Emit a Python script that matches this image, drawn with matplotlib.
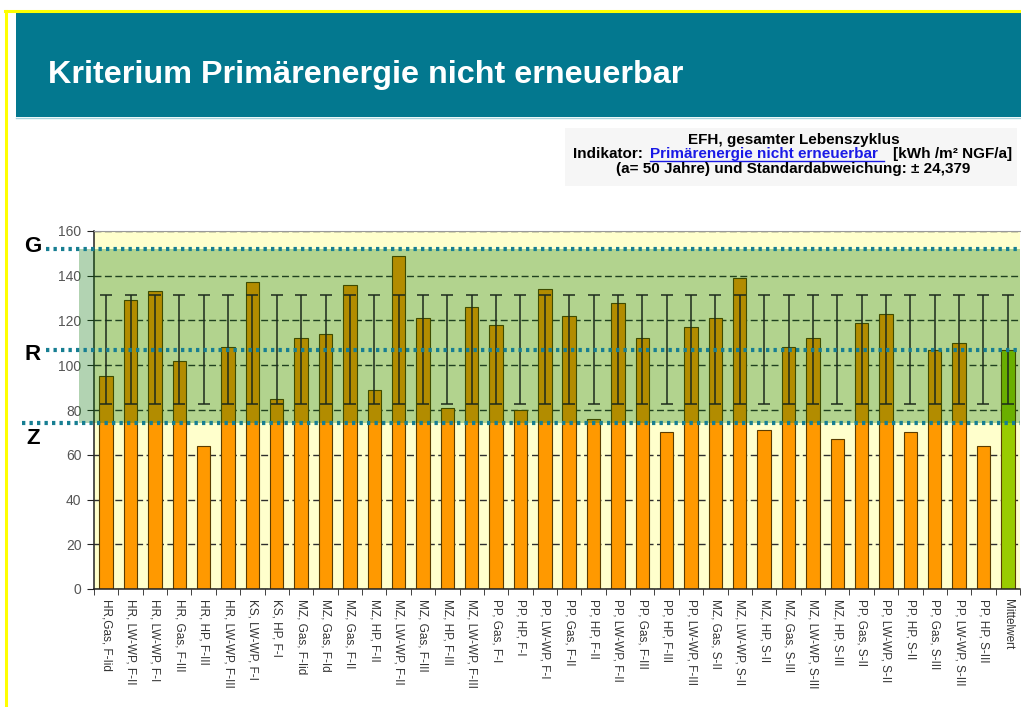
"""Kriterium Primärenergie nicht erneuerbar - EFH, gesamter Lebenszyklus."""
import matplotlib

matplotlib.use("Agg")
import matplotlib.pyplot as plt
from matplotlib.lines import Line2D
from matplotlib.patches import Rectangle
import numpy as np

plt.rcParams["font.family"] = ["Liberation Sans", "DejaVu Sans"]

W, H = 1021, 707

labels = [
    "HR,Gas, F-Iid", "HR, LW-WP, F-II", "HR, LW-WP, F-I", "HR, Gas, F-III",
    "HR, HP, F-III", "HR, LW-WP, F-III", "KS, LW-WP, F-I", "KS, HP, F-I",
    "MZ, Gas, F-Iid", "MZ, Gas, F-Id", "MZ, Gas, F-II", "MZ, HP, F-II",
    "MZ, LW-WP, F-II", "MZ, Gas, F-III", "MZ, HP, F-III", "MZ, LW-WP, F-III",
    "PP, Gas, F-I", "PP, HP, F-I", "PP, LW-WP, F-I", "PP, Gas, F-II",
    "PP, HP, F-II", "PP, LW-WP, F-II", "PP, Gas, F-III", "PP, HP, F-III",
    "PP, LW-WP, F-III", "MZ, Gas, S-II", "MZ, LW-WP, S-II", "MZ, HP, S-II",
    "MZ, Gas, S-III", "MZ, LW-WP, S-III", "MZ, HP, S-III", "PP, Gas, S-II",
    "PP, LW-WP, S-II", "PP, HP, S-II", "PP, Gas, S-III", "PP, LW-WP, S-III",
    "PP, HP, S-III", "Mittelwert",
]
values = [
    95, 129, 133, 102, 64, 108, 137, 85, 112, 114, 136, 89, 149, 121, 81, 126,
    118, 80, 134, 122, 76, 128, 112, 70, 117, 121, 139, 71, 108, 112, 67, 119,
    123, 70, 107, 110, 64, 107,
]
mean_value = 107
std_dev = 24.379
levels = {"G": 152, "R": 107, "Z": 74}

ORANGE = "#FF9900"
MEAN_GREEN = "#99CC00"
BG_YELLOW = "#FFFFCC"
TEAL = "#03788F"


def fx(x):
    return x / W


def fy(y):
    return 1 - y / H


fig = plt.figure(figsize=(W / 100, H / 100), dpi=100)
fig.patch.set_facecolor("white")

# slide decoration: yellow frame, teal header
fig.add_artist(Line2D([fx(5), fx(W)], [fy(11), fy(11)], color="#FFFF00", lw=2.2))
fig.add_artist(Line2D([fx(6), fx(6)], [fy(11), fy(H)], color="#FFFF00", lw=2.2))
fig.add_artist(Rectangle((fx(16), fy(117)), fx(W - 16), 105 / H, color=TEAL, lw=0))
fig.add_artist(Line2D([fx(16), fx(W)], [fy(117.5), fy(117.5)], color="#A8D4DD", lw=1))
fig.text(fx(48), fy(75), "Kriterium Primärenergie nicht erneuerbar", color="white",
         fontsize=23.3, fontweight="bold", va="center", ha="left")

# indicator box
fig.add_artist(Rectangle((fx(565), fy(186)), fx(452), 58 / H, color="#F6F6F6", lw=0))
fig.text(fx(794), fy(140), "EFH, gesamter Lebenszyklus", fontsize=11,
         fontweight="bold", ha="center", va="center")
fig.text(fx(573), fy(154), "Indikator:", fontsize=11, fontweight="bold",
         ha="left", va="center")
fig.text(fx(650), fy(154), "Primärenergie nicht erneuerbar", fontsize=11,
         fontweight="bold", ha="left", va="center", color="#1A1AE6")
fig.add_artist(Line2D([fx(650), fx(884)], [fy(161), fy(161)], color="#1A1AE6", lw=1))
fig.text(fx(893), fy(154), "[kWh /m² NGF/a]", fontsize=11, fontweight="bold",
         ha="left", va="center")
fig.text(fx(793), fy(169), "(a= 50 Jahre) und Standardabweichung: ± 24,379",
         fontsize=11, fontweight="bold", ha="center", va="center")

# chart
ax = fig.add_axes([fx(94), fy(589), fx(1020 - 94), (589 - 231) / H])
ax.set_facecolor(BG_YELLOW)
x = np.arange(len(values))
colors = [ORANGE] * (len(values) - 1) + [MEAN_GREEN]
ax.bar(x, values, width=0.55, color=colors, edgecolor="#5A3C00", linewidth=0.8,
       zorder=2)

# green target band, drawn over the bars
band = Rectangle((-0.016, levels["Z"]), 1.016, levels["G"] - levels["Z"],
                 transform=ax.get_yaxis_transform(), facecolor="#006E00",
                 alpha=0.3, lw=0, zorder=3, clip_on=False)
ax.add_patch(band)

ax.errorbar(x, [mean_value] * len(x), yerr=std_dev, fmt="none", ecolor="#1C2A1C",
            elinewidth=1.1, capsize=4, capthick=1.1, zorder=4)

# dotted limit lines, start just right of their letters
line_start = {"G": 46, "R": 46, "Z": 22}
letter_y = {"G": 247, "R": 354, "Z": 438}
for name, lvl in levels.items():
    x0 = (line_start[name] - 94) / (1020 - 94)
    ax.plot([x0, 1.0], [lvl, lvl], transform=ax.get_yaxis_transform(),
            color="#177E92", lw=3, linestyle=(0, (0.8, 1.0)), zorder=5,
            clip_on=False, dash_capstyle="butt")
    fig.text(fx(33), fy(letter_y[name]), name, fontsize=16, fontweight="bold",
             ha="center", va="center")

ax.set_ylim(0, 160)
ax.set_xlim(-0.45, len(values) - 0.55)
ax.set_yticks(range(0, 161, 20))
ax.yaxis.grid(True, color="#2E2E2E", lw=1, linestyle=(0, (5, 2.5)), zorder=1)
ax.set_axisbelow(True)
ax.tick_params(axis="y", labelsize=10, labelcolor="#555555", length=5,
               color="#222222", pad=4)
ax.set_xticks(x)
ax.set_xticklabels(labels, rotation=270, fontsize=8.5, color="#333333",
                   va="top", ha="center")
ax.tick_params(axis="x", which="major", length=0, pad=7)
ax.set_xticks(np.arange(len(values) + 1) - 0.5, minor=True)
ax.tick_params(axis="x", which="minor", length=4, color="#222222")
for side in ("left", "bottom"):
    ax.spines[side].set_color("#222222")
    ax.spines[side].set_linewidth(1.1)
ax.spines["top"].set_color("#999999")
ax.spines["right"].set_visible(False)

fig.savefig("out.png", dpi=100)
